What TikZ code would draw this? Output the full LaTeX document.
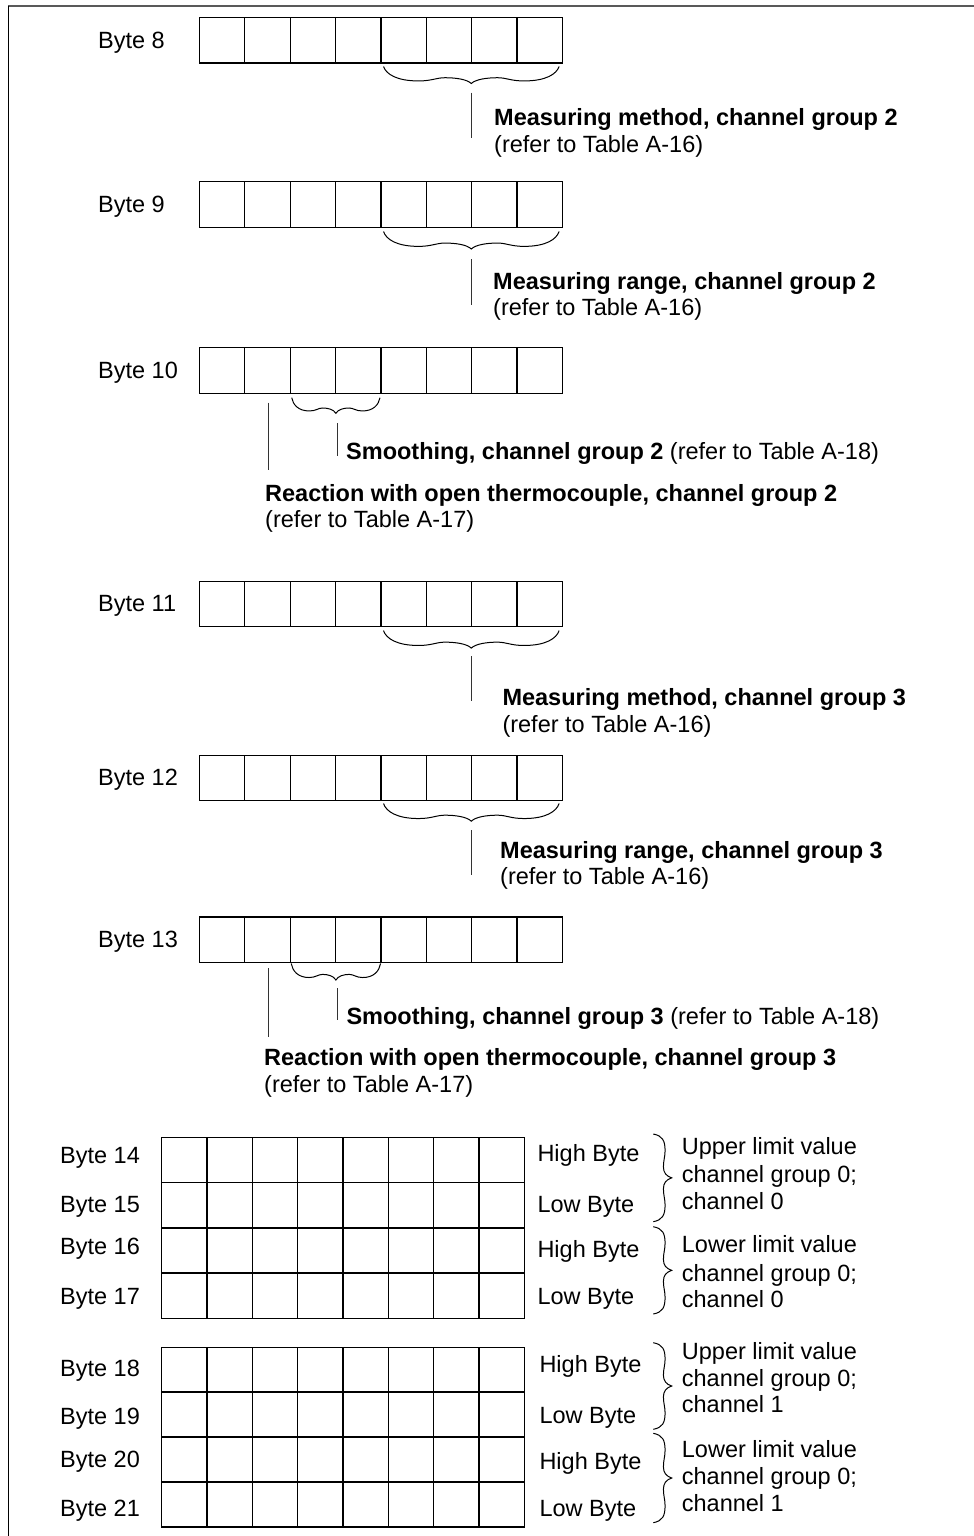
\documentclass[tikz,border=0pt]{standalone}
\usepackage{fontspec}
\setmainfont{Liberation Sans}
\tikzset{
  txt/.style={font=\fontsize{23.5}{28}\selectfont, inner sep=0pt, anchor=base west},
  bld/.style={font=\fontsize{23.5}{28}\selectfont\bfseries, inner sep=0pt, anchor=base west},
  cell/.style={draw=black, line width=1.2pt, minimum width=45.35pt, minimum height=45.4pt, inner sep=0pt, outer sep=0pt, anchor=north west},
  tcell/.style={draw=black, line width=1.2pt, minimum width=45.33pt, minimum height=#1, inner sep=0pt, outer sep=0pt, anchor=north west},
  conn/.style={draw=black!80, line width=1pt},
  brc/.style={draw=black, line width=1pt},
  sep/.style={draw=black, line width=1.8pt},
}
% row of 8 bit cells: name, top y, label
\newcommand{\ByteRow}[3]{%
  \node[txt] (#1-lbl) at (98,{#2+30.4}) {#3};
  \foreach \i in {1,...,8} {\node[cell] (#1-\i) at ({199.5+(\i-1)*45.35},#2) {};}
}
% row in the limit tables: name, x0, top y, row height
\newcommand{\TabRow}[4]{%
  \foreach \i in {1,...,8} {\node[tcell=#4] (#1-\i) at ({#2+(\i-1)*45.33},#3) {};}
}
% horizontal brace, tip down: x1, x2, y top, depth
\newcommand{\BraceH}[4]{%
  \pgfmathsetmacro{\bA}{(#2-#1)/2}%
  \pgfmathsetmacro{\bM}{(#1+#2)/2}%
  \draw[brc] (#1,#3)
   .. controls ({#1+0.03*\bA},{#3+0.45*#4}) and ({#1+0.15*\bA},{#3+0.85*#4}) .. ({#1+0.4*\bA},{#3+0.85*#4})
   .. controls ({#1+0.55*\bA},{#3+0.85*#4}) and ({#1+0.6*\bA},{#3+0.66*#4}) .. ({#1+0.7*\bA},{#3+0.66*#4})
   .. controls ({#1+0.82*\bA},{#3+0.66*#4}) and ({#1+0.95*\bA},{#3+0.75*#4}) .. (\bM,{#3+#4})
   .. controls ({#2-0.95*\bA},{#3+0.75*#4}) and ({#2-0.82*\bA},{#3+0.66*#4}) .. ({#2-0.7*\bA},{#3+0.66*#4})
   .. controls ({#2-0.6*\bA},{#3+0.66*#4}) and ({#2-0.55*\bA},{#3+0.85*#4}) .. ({#2-0.4*\bA},{#3+0.85*#4})
   .. controls ({#2-0.15*\bA},{#3+0.85*#4}) and ({#2-0.03*\bA},{#3+0.45*#4}) .. (#2,#3);
}
% vertical brace, tip right: x left, y1, y2, width
\newcommand{\BraceV}[4]{%
  \pgfmathsetmacro{\bA}{(#3-#2)/2}%
  \pgfmathsetmacro{\bM}{(#2+#3)/2}%
  \draw[brc] (#1,#2)
   .. controls ({#1+0.5*#4},{#2+0.04*\bA}) and ({#1+0.64*#4},{#2+0.15*\bA}) .. ({#1+0.64*#4},{#2+0.38*\bA})
   .. controls ({#1+0.64*#4},{#2+0.52*\bA}) and ({#1+0.55*#4},{#2+0.6*\bA}) .. ({#1+0.55*#4},{#2+0.75*\bA})
   .. controls ({#1+0.55*#4},{#2+0.88*\bA}) and ({#1+0.7*#4},{#2+0.96*\bA}) .. ({#1+#4},\bM)
   .. controls ({#1+0.7*#4},{#3-0.96*\bA}) and ({#1+0.55*#4},{#3-0.88*\bA}) .. ({#1+0.55*#4},{#3-0.75*\bA})
   .. controls ({#1+0.55*#4},{#3-0.6*\bA}) and ({#1+0.64*#4},{#3-0.52*\bA}) .. ({#1+0.64*#4},{#3-0.38*\bA})
   .. controls ({#1+0.64*#4},{#3-0.15*\bA}) and ({#1+0.5*#4},{#3-0.04*\bA}) .. (#1,#3);
}
\begin{document}
\begin{tikzpicture}[x=1pt,y=-1pt]
\useasboundingbox (0,0) rectangle (974,1536);
% frame
\coordinate (fTL) at (8.3,5.7);
\coordinate (fTR) at (974,5.7);
\coordinate (fBL) at (8.3,1536);
\draw[draw=black!65, line width=2pt] (fTL) -- (fTR);
\draw[draw=black, line width=1.2pt] (fTL) -- (fBL);

% ---------- Byte 8 ----------
\ByteRow{b8}{17.7}{Byte 8}
\BraceH{383.5}{559.1}{66.5}{17}
\coordinate (c8a) at (471.3,92.7);
\coordinate (c8b) at (471.3,138);
\draw[conn] (c8a) -- (c8b);
\node[bld] (t8a) at (494,125.7) {Measuring method, channel group 2};
\node[txt] (t8b) at (494,153) {(refer to Table A-16)};

% ---------- Byte 9 ----------
\ByteRow{b9}{181.7}{Byte 9}
\BraceH{383.5}{559.1}{231.5}{17.5}
\coordinate (c9a) at (471.3,259);
\coordinate (c9b) at (471.3,305);
\draw[conn] (c9a) -- (c9b);
\node[bld] (t9a) at (493,289.4) {Measuring range, channel group 2};
\node[txt] (t9b) at (493,315) {(refer to Table A-16)};

% ---------- Byte 10 ----------
\ByteRow{b10}{347.7}{Byte 10}
\coordinate (c10a) at (268.3,402.7);
\coordinate (c10b) at (268.3,470);
\draw[conn] (c10a) -- (c10b);
\BraceH{291.7}{380}{397.7}{15.6}
\coordinate (c10c) at (337,423.3);
\coordinate (c10d) at (337,456);
\draw[conn] (c10c) -- (c10d);
\node[txt] (t10s) at (346,459.4) {\textbf{Smoothing, channel group 2} (refer to Table A-18)};
\node[bld] (t10a) at (265,501) {Reaction with open thermocouple, channel group 2};
\node[txt] (t10b) at (265,527.7) {(refer to Table A-17)};

% ---------- Byte 11 ----------
\ByteRow{b11}{581.3}{Byte 11}
\BraceH{383.5}{559.1}{630.6}{17.5}
\coordinate (c11a) at (471.3,656.4);
\coordinate (c11b) at (471.3,701.2);
\draw[conn] (c11a) -- (c11b);
\node[bld] (t11a) at (502.3,705.4) {Measuring method, channel group 3};
\node[txt] (t11b) at (502.3,732) {(refer to Table A-16)};

% ---------- Byte 12 ----------
\ByteRow{b12}{755.2}{Byte 12}
\BraceH{383.5}{559.1}{803.5}{17.7}
\coordinate (c12a) at (471.3,830.3);
\coordinate (c12b) at (471.3,875);
\draw[conn] (c12a) -- (c12b);
\node[bld] (t12a) at (500,858.7) {Measuring range, channel group 3};
\node[txt] (t12b) at (500,884.5) {(refer to Table A-16)};

% ---------- Byte 13 ----------
\ByteRow{b13}{917}{Byte 13}
\coordinate (c13a) at (268.3,968.3);
\coordinate (c13b) at (268.3,1036.7);
\draw[conn] (c13a) -- (c13b);
\BraceH{291.2}{380.6}{963.5}{16.5}
\coordinate (c13c) at (337.3,988.3);
\coordinate (c13d) at (337.3,1020);
\draw[conn] (c13c) -- (c13d);
\node[txt] (t13s) at (346.3,1024.2) {\textbf{Smoothing, channel group 3} (refer to Table A-18)};
\node[bld] (t13a) at (264,1065.7) {Reaction with open thermocouple, channel group 3};
\node[txt] (t13b) at (264,1092.5) {(refer to Table A-17)};

% ---------- Table Bytes 14-17 ----------
\TabRow{r14}{161.7}{1137.3}{45.25pt}
\TabRow{r15}{161.7}{1182.55}{45.25pt}
\TabRow{r16}{161.7}{1227.8}{45.25pt}
\TabRow{r17}{161.7}{1273.05}{45.25pt}
\draw[sep] (r14-1.south west) -- (r14-8.south east);
\draw[sep] (r15-1.south west) -- (r15-8.south east);
\draw[sep] (r16-1.south west) -- (r16-8.south east);
\node[txt] (l14) at (60,1163.7) {Byte 14};
\node[txt] (l15) at (60,1212) {Byte 15};
\node[txt] (l16) at (60,1254.4) {Byte 16};
\node[txt] (l17) at (60,1304.4) {Byte 17};
\node[txt] (h14) at (537.3,1161) {High Byte};
\node[txt] (h15) at (537.3,1212) {Low Byte};
\node[txt] (h16) at (537.3,1257) {High Byte};
\node[txt] (h17) at (537.3,1304.4) {Low Byte};
\BraceV{653.3}{1134}{1221.7}{18.4}
\BraceV{653.3}{1226.7}{1314}{18.4}
\node[txt] (u1a) at (681.7,1154.4) {Upper limit value};
\node[txt] (u1b) at (681.7,1182.7) {channel group 0;};
\node[txt] (u1c) at (681.7,1209.4) {channel 0};
\node[txt] (w1a) at (681.7,1252.7) {Lower limit value};
\node[txt] (w1b) at (681.7,1281) {channel group 0;};
\node[txt] (w1c) at (681.7,1307.7) {channel 0};

% ---------- Table Bytes 18-21 ----------
\TabRow{r18}{161.7}{1347.3}{44.9pt}
\TabRow{r19}{161.7}{1392.2}{44.9pt}
\TabRow{r20}{161.7}{1437.1}{44.9pt}
\TabRow{r21}{161.7}{1482.0}{44.9pt}
\draw[sep] (r18-1.south west) -- (r18-8.south east);
\draw[sep] (r19-1.south west) -- (r19-8.south east);
\draw[sep] (r20-1.south west) -- (r20-8.south east);
\node[txt] (l18) at (60,1376) {Byte 18};
\node[txt] (l19) at (60,1424.4) {Byte 19};
\node[txt] (l20) at (60,1467.7) {Byte 20};
\node[txt] (l21) at (60,1516) {Byte 21};
\node[txt] (h18) at (539.3,1372.7) {High Byte};
\node[txt] (h19) at (539.3,1423.7) {Low Byte};
\node[txt] (h20) at (539.3,1469.4) {High Byte};
\node[txt] (h21) at (539.3,1516) {Low Byte};
\BraceV{653.3}{1342.7}{1429.3}{18.4}
\BraceV{653.3}{1433.3}{1522.7}{18.4}
\node[txt] (u2a) at (681.7,1359.4) {Upper limit value};
\node[txt] (u2b) at (681.7,1386) {channel group 0;};
\node[txt] (u2c) at (681.7,1412.7) {channel 1};
\node[txt] (w2a) at (681.7,1457.7) {Lower limit value};
\node[txt] (w2b) at (681.7,1484.4) {channel group 0;};
\node[txt] (w2c) at (681.7,1511) {channel 1};
\end{tikzpicture}
\end{document}
